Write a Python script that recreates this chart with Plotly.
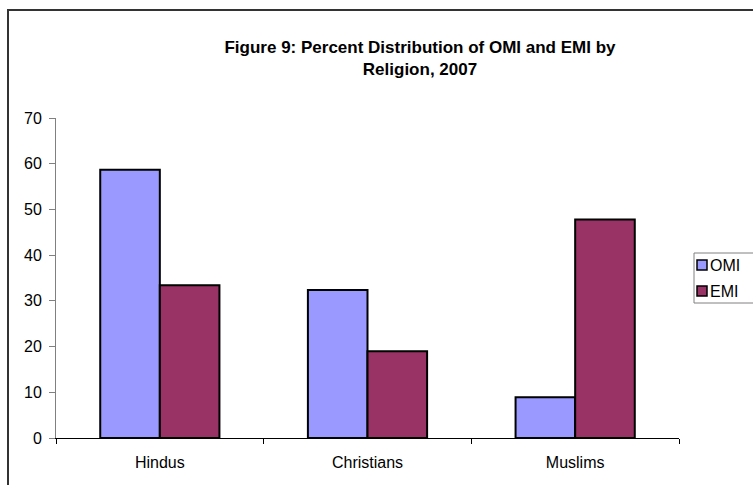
import plotly.graph_objects as go

# Data
religions = ["Hindus", "Christians", "Muslims"]
omi_pct = [58.7, 32.4, 8.9]
emi_pct = [33.4, 19.0, 47.8]
y_ticks = [0, 10, 20, 30, 40, 50, 60, 70]

W, H = 753, 485
ML, MR, MT, MB = 56, 74, 118, 47
PW, PH = W - ML - MR, H - MT - MB

FONT = "Arial, Liberation Sans, sans-serif"
OMI_COLOR = "#9999FF"
EMI_COLOR = "#993366"


def px_x(x):
    """pixel x -> paper x"""
    return (x - ML) / PW


def px_y(y):
    """pixel y (from top) -> paper y"""
    return (H - MB - y) / PH


fig = go.Figure()
fig.add_trace(go.Bar(name="OMI", x=religions, y=omi_pct,
                     marker=dict(color=OMI_COLOR, line=dict(color="black", width=2))))
fig.add_trace(go.Bar(name="EMI", x=religions, y=emi_pct,
                     marker=dict(color=EMI_COLOR, line=dict(color="black", width=2))))

shapes = []
annotations = []

# Outer chart frame
shapes.append(dict(type="rect", xref="paper", yref="paper",
                   x0=px_x(8), x1=px_x(W + 10), y0=px_y(H + 10), y1=px_y(10),
                   line=dict(color="#333333", width=2), fillcolor="rgba(0,0,0,0)"))

# Legend box
shapes.append(dict(type="rect", xref="paper", yref="paper",
                   x0=px_x(694), x1=px_x(W + 5), y0=px_y(303), y1=px_y(253),
                   line=dict(color="#808080", width=1), fillcolor="white"))
for name, color, cy in [("OMI", OMI_COLOR, 265), ("EMI", EMI_COLOR, 291)]:
    shapes.append(dict(type="rect", xref="paper", yref="paper",
                       x0=px_x(697), x1=px_x(707), y0=px_y(cy + 5), y1=px_y(cy - 5),
                       line=dict(color="black", width=1.5), fillcolor=color))
    annotations.append(dict(text=name, xref="paper", yref="paper",
                            x=px_x(708), y=px_y(cy), xanchor="left", yanchor="middle",
                            showarrow=False, font=dict(family=FONT, size=16, color="black")))

fig.update_layout(
    width=W, height=H,
    margin=dict(l=ML, r=MR, t=MT, b=MB, pad=0),
    paper_bgcolor="white", plot_bgcolor="white",
    showlegend=False,
    barmode="group", bargap=0.426, bargroupgap=0,
    title=dict(text="<b>Figure 9: Percent Distribution of OMI and EMI by<br>Religion, 2007</b>",
               x=420 / W, xanchor="center", y=1 - 53 / H, yanchor="middle",
               font=dict(family=FONT, size=17, color="black")),
    font=dict(family=FONT, size=16, color="black"),
    xaxis=dict(showline=True, linecolor="black", linewidth=1,
               ticks="outside", ticklen=5, tickcolor="black", tickson="boundaries",
               showgrid=False, ticklabelstandoff=10,
               tickfont=dict(family=FONT, size=16, color="black")),
    yaxis=dict(range=[0, 70], tickvals=y_ticks, showline=True, linecolor="#808080",
               linewidth=1, ticks="outside", ticklen=6, tickcolor="#808080",
               showgrid=False, zeroline=False, ticklabelstandoff=4,
               tickfont=dict(family=FONT, size=16, color="black")),
    shapes=shapes, annotations=annotations,
)

fig.write_html("out.html")
